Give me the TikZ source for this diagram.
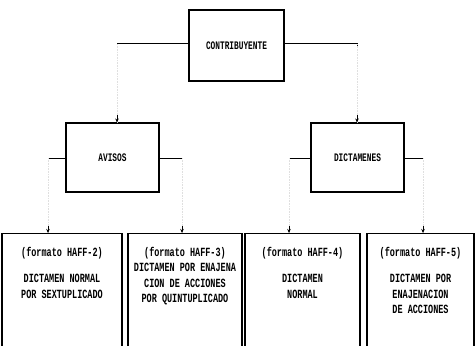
\documentclass[tikz,border=0pt]{standalone}
\usepackage{fontspec}
\newfontfamily\dotfont[FakeStretch=0.68]{Liberation Mono}
\usetikzlibrary{arrows.meta, positioning, calc}

\begin{document}
\begin{tikzpicture}[x=1pt, y=-1pt,
  block/.style={rectangle, draw, line width=1.1pt, minimum width=93pt, minimum height=69pt,
                inner sep=0pt, font=\dotfont\bfseries\fontsize{11.5}{12}\selectfont},
  sheet/.style={rectangle, draw, line width=1.1pt, minimum height=130pt, anchor=north, inner sep=0pt},
  sheettext/.style={align=center, inner sep=0pt, font=\dotfont\bfseries\fontsize{12.5}{15.5}\selectfont},
  link/.style={line width=1pt},
  leg/.style={densely dotted, gray!25, line width=0.6pt},
  tip/.style={-{Stealth[length=4pt, width=3.5pt]}, line width=1pt},
]
\useasboundingbox (0,0) rectangle (476,345);
\clip (0,0) rectangle (476,345);

% upper levels
\node[block, minimum width=95pt, minimum height=71pt] (contrib) at (236.5,45.5) {CONTRIBUYENTE};
\node[block] (avisos) at (112.5,157.5) {AVISOS};
\node[block] (dictam) at (357.5,157.5) {DICTAMENES};

\coordinate (contribL) at (117,44);
\coordinate (contribR) at (357,44);
\coordinate (avisosL)  at (48,158);
\coordinate (avisosR)  at (182,158);
\coordinate (dictamL)  at (289,158);
\coordinate (dictamR)  at (423,158);

% formats
\node[sheet, minimum width=120pt] (haff2) at (62,233) {};
\node[sheet, minimum width=114pt] (haff3) at (185,233) {};
\node[sheet, minimum width=115pt] (haff4) at (302.5,233) {};
\node[sheet, minimum width=107pt] (haff5) at (420.5,233) {};

\node[sheettext, below=14pt of haff2.north] (haff2txt)
  {(formato HAFF-2)\\[11pt]DICTAMEN NORMAL\\POR SEXTUPLICADO};
\node[sheettext, below=14pt of haff3.north] (haff3txt)
  {(formato HAFF-3)\\DICTAMEN POR ENAJENA\\CION DE ACCIONES\\POR QUINTUPLICADO};
\node[sheettext, below=14pt of haff4.north] (haff4txt)
  {(formato HAFF-4)\\[11pt]DICTAMEN\\NORMAL};
\node[sheettext, below=14pt of haff5.north] (haff5txt)
  {(formato HAFF-5)\\[11pt]DICTAMEN POR\\ENAJENACION\\DE ACCIONES};

% connectors
\draw[link] (contrib.west |- contribL) -- (contribL);
\draw[link] (contrib.east |- contribR) -- (contribR) -- ++(0,3);
\draw[link] (avisos.west |- avisosL) -- (avisosL);
\draw[link] (avisos.east |- avisosR) -- (avisosR);
\draw[link] (dictam.west |- dictamL) -- (dictamL);
\draw[link] (dictam.east |- dictamR) -- (dictamR);

\foreach \from/\to in {contribL/avisos, contribR/dictam, avisosL/haff2,
                       avisosR/haff3, dictamL/haff4, dictamR/haff5} {
  \draw[leg] (\from) -- (\from |- \to.north);
  \draw[tip] ($(\from |- \to.north)+(0,-7)$) -- (\from |- \to.north);
}
\end{tikzpicture}
\end{document}
